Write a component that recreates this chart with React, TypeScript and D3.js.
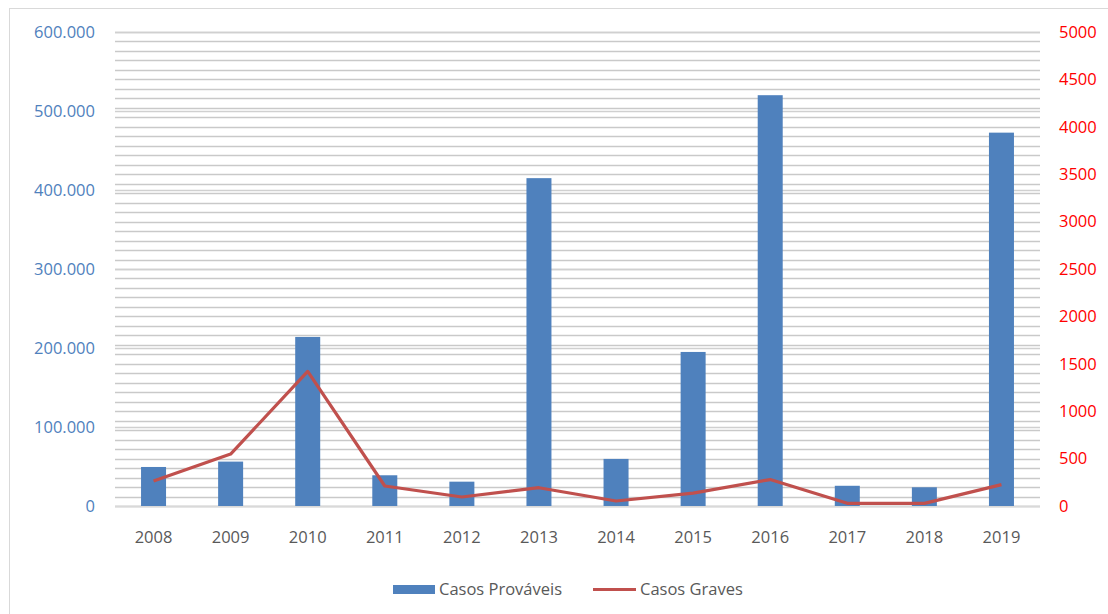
import React from "react";
import * as d3 from "d3";

const years = ["2008","2009","2010","2011","2012","2013","2014","2015","2016","2017","2018","2019"];
const casosProvaveis = [49400, 56200, 214000, 38900, 30800, 415000, 59600, 195000, 520000, 25600, 23700, 472600];
const casosGraves = [264, 548, 1420, 211, 95, 193, 53, 136, 279, 28, 28, 226];
const leftTicks = [0, 100000, 200000, 300000, 400000, 500000, 600000];
const rightTicks = [0, 500, 1000, 1500, 2000, 2500, 3000, 3500, 4000, 4500, 5000];
const seriesNames = ["Casos Prováveis", "Casos Graves"];

const W = 1108, H = 614;
const plotL = 115, plotR = 1040, plotT = 32, plotB = 506;
const FONT = "'Open Sans', sans-serif";
const BLUE = "#4F81BD";
const RED = "#C0504D";

export default function App() {
  const x = d3.scaleBand<string>().domain(years).range([plotL, plotR]).paddingInner(0).paddingOuter(0);
  const yL = d3.scaleLinear().domain([0, 600000]).range([plotB, plotT]);
  const yR = d3.scaleLinear().domain([0, 5000]).range([plotB, plotT]);
  const barW = 25;
  const fmtL = (v: number) => d3.format(",")(v).replace(/,/g, ".");
  const minorR = d3.range(0, 5001, 100);
  const line = d3.line<number>()
    .x((_, i) => (x(years[i]) as number) + x.bandwidth() / 2)
    .y((d) => yR(d));

  return (
    <svg width={W} height={H} style={{ position: "absolute", left: 0, top: 0, background: "#fff" }}>
      <rect x={9.5} y={8.5} width={W + 10} height={H + 10} fill="#fff" stroke="#d9d9d9" strokeWidth={1} />
      {minorR.map((v) => (
        <line key={"r" + v} x1={plotL} x2={plotR} y1={Math.round(yR(v)) + 0.5} y2={Math.round(yR(v)) + 0.5} stroke="#c9c9c9" strokeWidth={1.3} />
      ))}
      {leftTicks.map((v) => (
        <line key={"l" + v} x1={plotL} x2={plotR} y1={Math.round(yL(v)) + 0.5} y2={Math.round(yL(v)) + 0.5} stroke="#d0d0d0" strokeWidth={1.3} />
      ))}
      <line x1={plotL} x2={plotR} y1={plotB + 0.5} y2={plotB + 0.5} stroke="#d9d9d9" strokeWidth={1.3} />
      {casosProvaveis.map((v, i) => (
        <rect key={years[i]} x={(x(years[i]) as number) + x.bandwidth() / 2 - barW / 2} y={yL(v)} width={barW} height={plotB - yL(v)} fill={BLUE} />
      ))}
      <path d={line(casosGraves) || ""} fill="none" stroke={RED} strokeWidth={3.2} strokeLinejoin="round" />
      {leftTicks.map((v) => (
        <text key={"lt" + v} x={95} y={yL(v)} dy="0.35em" textAnchor="end" fill={BLUE} fontFamily={FONT} fontSize={16.5}>{fmtL(v)}</text>
      ))}
      {rightTicks.map((v) => (
        <text key={"rt" + v} x={1059} y={yR(v)} dy="0.35em" textAnchor="start" fill="#FF0000" fontFamily={FONT} fontSize={16.5}>{v}</text>
      ))}
      {years.map((yv) => (
        <text key={"x" + yv} x={(x(yv) as number) + x.bandwidth() / 2} y={537} dy="0.35em" textAnchor="middle" fill="#595959" fontFamily={FONT} fontSize={16.5}>{yv}</text>
      ))}
      <rect x={393} y={585} width={42} height={9} fill={BLUE} />
      <text x={439} y={589.5} dy="0.35em" fill="#595959" fontFamily={FONT} fontSize={16.5}>{seriesNames[0]}</text>
      <line x1={593} x2={636} y1={589.5} y2={589.5} stroke={RED} strokeWidth={3} />
      <text x={640} y={589.5} dy="0.35em" fill="#595959" fontFamily={FONT} fontSize={16.5}>{seriesNames[1]}</text>
    </svg>
  );
}
